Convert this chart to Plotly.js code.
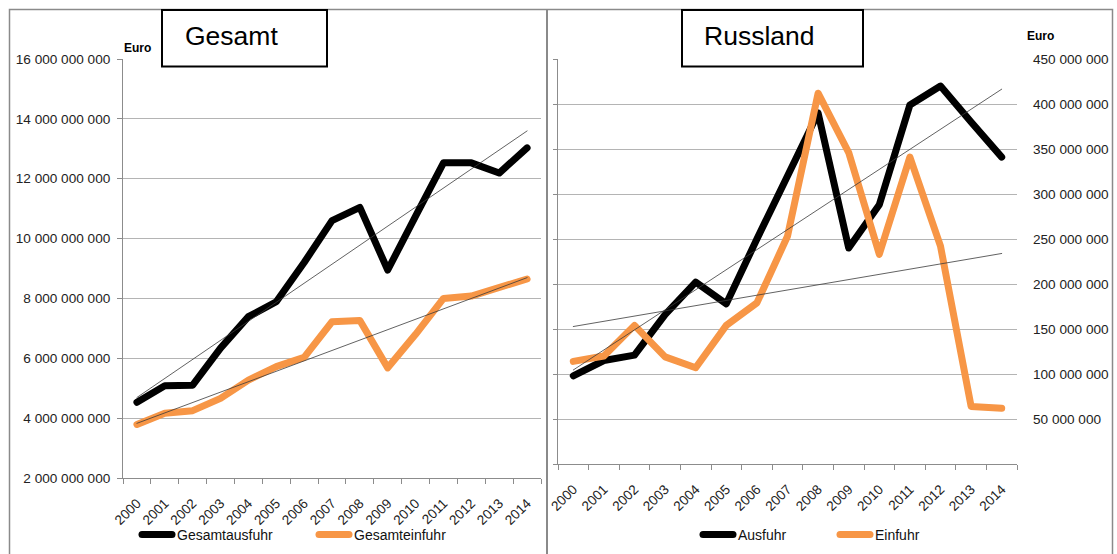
<!DOCTYPE html>
<html>
<head>
<meta charset="utf-8">
<script src="https://cdn.plot.ly/plotly-3.0.1.min.js"></script>
<style>
html,body{margin:0;padding:0;background:#fff;}
#chart{width:1117px;height:554px;}
.scatterlayer .js-line{stroke-linejoin:round;stroke-linecap:round;}
.legendlines path{stroke-linecap:round;}
</style>
</head>
<body>
<div id="chart"></div>
<script>
// ---- data ----
const years = ['2000','2001','2002','2003','2004','2005','2006','2007','2008','2009','2010','2011','2012','2013','2014'];
const gesamtAusfuhr = [4.53e9, 5.08e9, 5.10e9, 6.34e9, 7.39e9, 7.89e9, 9.20e9, 10.6e9, 11.04e9, 8.95e9, 10.75e9, 12.53e9, 12.53e9, 12.19e9, 13.03e9];
const gesamtEinfuhr = [3.79e9, 4.16e9, 4.25e9, 4.66e9, 5.27e9, 5.72e9, 6.03e9, 7.22e9, 7.26e9, 5.68e9, 6.80e9, 8.00e9, 8.08e9, 8.34e9, 8.65e9];
const russAusfuhr = [98e6, 115e6, 121e6, 166e6, 202e6, 178e6, 250e6, 319e6, 390e6, 240e6, 288e6, 399e6, 420e6, 380e6, 341e6];
const russEinfuhr = [114e6, 120e6, 154e6, 119e6, 107e6, 154e6, 179e6, 253e6, 412e6, 346e6, 233e6, 341e6, 242e6, 64e6, 62e6];
const leftTicks = [2e9, 4e9, 6e9, 8e9, 10e9, 12e9, 14e9, 16e9];
const rightTicks = [50e6, 100e6, 150e6, 200e6, 250e6, 300e6, 350e6, 400e6, 450e6];

// linear trend (least squares over category index), as Excel does
function trend(vals){
  const n = vals.length;
  let sx=0, sy=0, sxy=0, sxx=0;
  vals.forEach((v,i)=>{sx+=i; sy+=v; sxy+=i*v; sxx+=i*i;});
  const b = (n*sxy - sx*sy)/(n*sxx - sx*sx);
  const a = (sy - b*sx)/n;
  return [a, a + b*(n-1)];
}

const W = 1117, H = 554;
const px = x => x / W;
const py = y => 1 - y / H;

const BLACK = '#000000', ORANGE = '#f79646', TREND = '#3a3a3a';
const FONT = 'Liberation Sans, Arial, sans-serif';
const GRID = '#b4b4b4', AXIS = '#8c8c8c';

const ends = [years[0], years[years.length-1]];

const traces = [
  {x: years, y: gesamtAusfuhr, type:'scatter', mode:'lines', name:'Gesamtausfuhr',
   line:{color:BLACK, width:7}, xaxis:'x', yaxis:'y', legend:'legend'},
  {x: years, y: gesamtEinfuhr, type:'scatter', mode:'lines', name:'Gesamteinfuhr',
   line:{color:ORANGE, width:7}, xaxis:'x', yaxis:'y', legend:'legend'},
  {x: ends, y: trend(gesamtAusfuhr), type:'scatter', mode:'lines', showlegend:false,
   line:{color:TREND, width:0.8}, xaxis:'x', yaxis:'y', hoverinfo:'skip'},
  {x: ends, y: trend(gesamtEinfuhr), type:'scatter', mode:'lines', showlegend:false,
   line:{color:TREND, width:0.8}, xaxis:'x', yaxis:'y', hoverinfo:'skip'},
  {x: years, y: russAusfuhr, type:'scatter', mode:'lines', name:'Ausfuhr',
   line:{color:BLACK, width:7}, xaxis:'x2', yaxis:'y2', legend:'legend2'},
  {x: years, y: russEinfuhr, type:'scatter', mode:'lines', name:'Einfuhr',
   line:{color:ORANGE, width:7}, xaxis:'x2', yaxis:'y2', legend:'legend2'},
  {x: ends, y: trend(russAusfuhr), type:'scatter', mode:'lines', showlegend:false,
   line:{color:TREND, width:0.8}, xaxis:'x2', yaxis:'y3', hoverinfo:'skip'},
  {x: ends, y: trend(russEinfuhr), type:'scatter', mode:'lines', showlegend:false,
   line:{color:TREND, width:0.8}, xaxis:'x2', yaxis:'y3', hoverinfo:'skip'}
];

const tickFont = {family: FONT, size: 13.6, color: '#222'};

const xCommon = {
  type:'category', categoryorder:'array', categoryarray: years,
  range:[-0.5, years.length - 0.5], autorange:false,
  showline:true, linecolor:AXIS, linewidth:1,
  ticks:'outside', tickson:'boundaries', ticklen:5, tickcolor:AXIS,
  tickangle:-45, ticklabelstandoff:11, tickfont: tickFont, showgrid:false, zeroline:false, fixedrange:true
};

const layout = {
  width: W, height: H,
  margin: {l:0, r:0, t:0, b:0, pad:0},
  paper_bgcolor:'#fff', plot_bgcolor:'#fff',
  separators: ', ',
  font: {family: FONT, color:'#000'},
  showlegend: true,
  xaxis: Object.assign({}, xCommon, {domain:[px(123), px(541)], anchor:'y'}),
  yaxis: {
    domain:[py(478), py(59)], anchor:'x', range:[2e9, 16e9],
    tickmode:'array', tickvals: leftTicks, tickformat:',d',
    showgrid:true, gridcolor:GRID, gridwidth:1,
    showline:true, linecolor:AXIS, ticks:'outside', ticklen:5, tickcolor:AXIS,
    ticklabelstandoff:4,
    tickfont: tickFont, zeroline:false, fixedrange:true
  },
  xaxis2: Object.assign({}, xCommon, {domain:[px(558), px(1017)], anchor:'y2'}),
  yaxis2: {
    domain:[py(464), py(59)], anchor:'x2', range:[0, 450e6],
    tickmode:'array', tickvals: [0].concat(rightTicks),
    showticklabels:false,
    showgrid:true, gridcolor:GRID, gridwidth:1,
    showline:true, linecolor:AXIS, ticks:'outside', ticklen:4, tickcolor:AXIS,
    zeroline:false, fixedrange:true
  },
  yaxis3: {
    overlaying:'y2', anchor:'x2', side:'right', range:[0, 450e6],
    tickmode:'array', tickvals: rightTicks, tickformat:',d',
    showgrid:false, showline:false, ticks:'', ticklabelstandoff:15,
    tickfont: tickFont, zeroline:false, fixedrange:true
  },
  legend: {
    orientation:'h', x: px(137), xanchor:'left', y: py(535), yanchor:'middle',
    entrywidth:132, entrywidthmode:'pixels', traceorder:'normal',
    font:{family:FONT, size:14, color:'#111'}, bgcolor:'rgba(0,0,0,0)', borderwidth:0
  },
  legend2: {
    orientation:'h', x: px(698), xanchor:'left', y: py(535), yanchor:'middle',
    entrywidth:92, entrywidthmode:'pixels', traceorder:'normal',
    font:{family:FONT, size:14, color:'#111'}, bgcolor:'rgba(0,0,0,0)', borderwidth:0
  },
  shapes: [
    // panel frames
    {type:'rect', xref:'paper', yref:'paper', x0:px(9.5), x1:px(1112.5), y0:py(570), y1:py(9.5),
     line:{color:'#8a8a8a', width:1.5}, fillcolor:'rgba(0,0,0,0)', layer:'below'},
    {type:'line', xref:'paper', yref:'paper', x0:px(547), x1:px(547), y0:py(570), y1:py(9.5),
     line:{color:'#8a8a8a', width:2}, layer:'below'},
    // title boxes
    {type:'rect', xref:'paper', yref:'paper', x0:px(162), x1:px(327), y0:py(66.5), y1:py(10),
     line:{color:'#000', width:2}, fillcolor:'#fff', layer:'above'},
    {type:'rect', xref:'paper', yref:'paper', x0:px(682), x1:px(863), y0:py(66.5), y1:py(10),
     line:{color:'#000', width:2}, fillcolor:'#fff', layer:'above'}
  ],
  annotations: [
    {xref:'paper', yref:'paper', x:px(183), y:py(36), xanchor:'left', yanchor:'middle',
     text:'Gesamt', showarrow:false, font:{family:FONT, size:26.5, color:'#000'}},
    {xref:'paper', yref:'paper', x:px(702), y:py(36), xanchor:'left', yanchor:'middle',
     text:'Russland', showarrow:false, font:{family:FONT, size:26.5, color:'#000'}},
    {xref:'paper', yref:'paper', x:px(122), y:py(48), xanchor:'left', yanchor:'middle',
     text:'<b>Euro</b>', showarrow:false, font:{family:FONT, size:12, color:'#000'}},
    {xref:'paper', yref:'paper', x:px(1025), y:py(36), xanchor:'left', yanchor:'middle',
     text:'<b>Euro</b>', showarrow:false, font:{family:FONT, size:12, color:'#000'}}
  ]
};

Plotly.newPlot('chart', traces, layout, {staticPlot:true, displayModeBar:false});
</script>
</body>
</html>
